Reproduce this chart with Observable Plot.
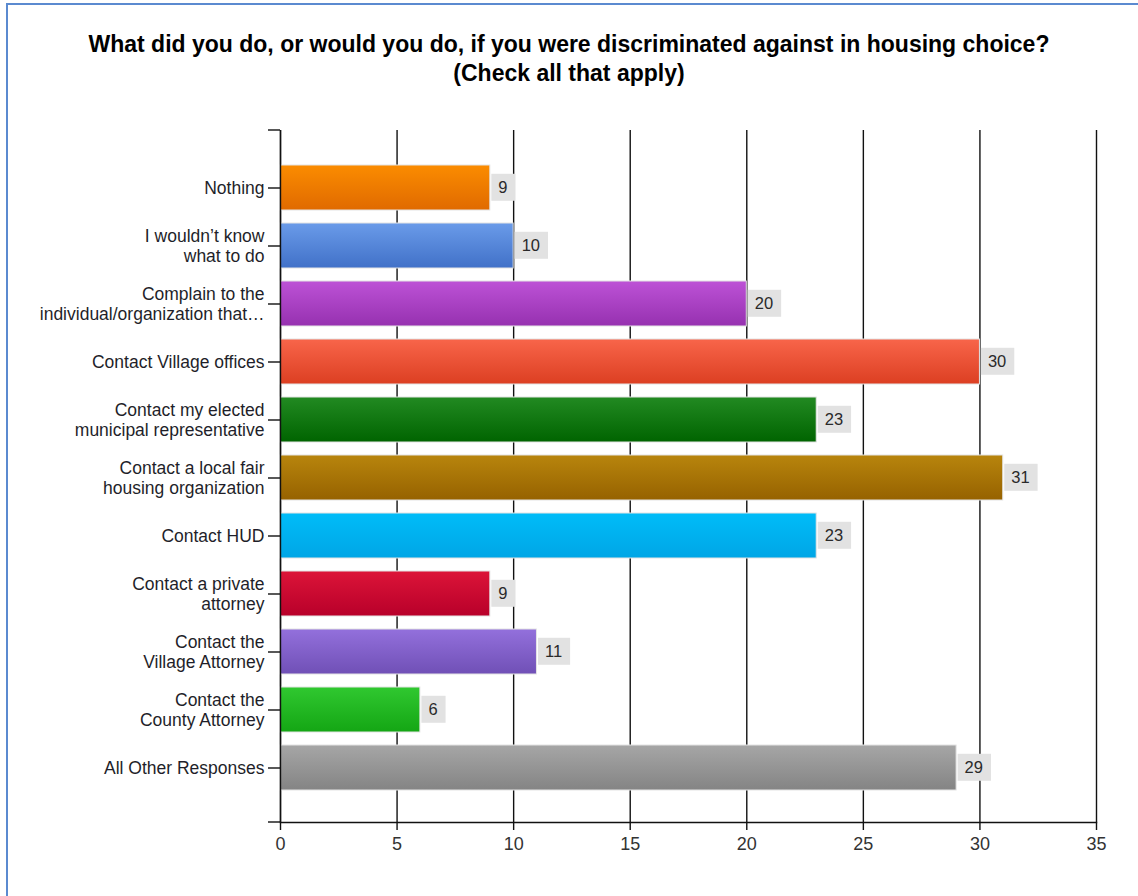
<!DOCTYPE html>
<html>
<head>
<meta charset="utf-8">
<script src="https://cdn.jsdelivr.net/npm/d3@7"></script>
<script src="https://cdn.jsdelivr.net/npm/@observablehq/plot@0.6"></script>
<style>
  html, body { margin: 0; padding: 0; background: #fff; }
  #wrap { position: relative; width: 1138px; height: 896px; overflow: hidden; }
  #borderTop { position: absolute; left: 6px; top: 3px; width: 1200px; height: 2px; background: #5b8ad0; z-index: 2; }
  #borderLeft { position: absolute; left: 6px; top: 3px; width: 2px; height: 1000px; background: #5b8ad0; z-index: 2; }
  #title { height: 110px; box-sizing: border-box; padding-top: 30px; text-align: center;
           font-family: "Liberation Sans", Arial, sans-serif; font-weight: bold; font-size: 23px;
           line-height: 29px; color: #000; }
  #chart svg { display: block; }
</style>
</head>
<body>
<div id="wrap">
  <div id="borderTop"></div>
  <div id="borderLeft"></div>
  <div id="title">What did you do, or would you do, if you were discriminated against in housing choice?<br>(Check all that apply)</div>
  <div id="chart"></div>
</div>
<script>
const categories = [
  "Nothing",
  "I wouldn’t know\nwhat to do",
  "Complain to the\nindividual/organization that…",
  "Contact Village offices",
  "Contact my elected\nmunicipal representative",
  "Contact a local fair\nhousing organization",
  "Contact HUD",
  "Contact a private\nattorney",
  "Contact the\nVillage Attorney",
  "Contact the\nCounty Attorney",
  "All Other Responses"
];
const values = [9, 10, 20, 30, 23, 31, 23, 9, 11, 6, 29];
const topColors = ["#fb8c00", "#6a9be9", "#bd52d6", "#f8654a", "#228a22", "#b8850d", "#00bcf8", "#dc1438", "#9370dc", "#30c830", "#a6a6a6"];
const bottomColors = ["#e06a00", "#4171c8", "#9631b0", "#dc3f22", "#006400", "#966200", "#00a6e6", "#b8002a", "#7050b6", "#14a614", "#848484"];
const xTicks = [0, 5, 10, 15, 20, 25, 30, 35];

const data = categories.map((label, i) => ({label, value: values[i], fill: `url(#grad${i})`}));

const H = 786, MT = 20, MB = 74;
const chart = Plot.plot({
  width: 1138,
  height: H,
  marginLeft: 280,
  marginRight: 42,
  marginTop: MT,
  marginBottom: MB,
  style: {fontFamily: "'Liberation Sans', Arial, sans-serif", background: "#fff"},
  x: {domain: [0, 35], label: null},
  y: {domain: categories, label: null, paddingInner: 0.22, paddingOuter: 0.575, align: 0.53},
  color: {type: "identity"},
  marks: [
    Plot.gridX(xTicks, {stroke: "#111", strokeOpacity: 1, strokeWidth: 1.4}),
    Plot.barX(data, {x: "value", y: "label", fill: "fill", stroke: "#e4e4e4", strokeWidth: 1}),
    Plot.text(data, {x: "value", y: "label", text: d => String(d.value), textAnchor: "start", dx: 8,
      fontSize: 16.5, fill: "#2a2a2a", className: "vlabel"}),
    Plot.axisX(xTicks, {anchor: "bottom", tickSize: 8, tickPadding: 7, fontSize: 18, stroke: "#111", fill: "#333", strokeWidth: 1.4}),
    Plot.axisY({anchor: "left", tickSize: 12, tickPadding: 4, fontSize: 17.5, lineHeight: 1.14, stroke: "#111", fill: "#1f1f2a", strokeWidth: 1.4}),
    Plot.ruleX([0], {stroke: "#111", strokeWidth: 1.4}),
    Plot.frame({anchor: "bottom", stroke: "#111", strokeWidth: 1.4})
  ]
});
document.getElementById("chart").appendChild(chart);

// gradients
const svgSel = d3.select(chart);
const defs = svgSel.insert("defs", ":first-child");
topColors.forEach((c, i) => {
  const g = defs.append("linearGradient").attr("id", `grad${i}`).attr("x1", 0).attr("y1", 0).attr("x2", 0).attr("y2", 1);
  g.append("stop").attr("offset", "0%").attr("stop-color", c);
  g.append("stop").attr("offset", "100%").attr("stop-color", bottomColors[i]);
});

// grey boxes behind value labels
svgSel.selectAll("g.vlabel text").each(function () {
  const bb = this.getBBox();
  const tr = this.getAttribute("transform");
  const r = document.createElementNS("http://www.w3.org/2000/svg", "rect");
  r.setAttribute("x", bb.x - 7);
  r.setAttribute("y", bb.y + bb.height / 2 - 13.5);
  r.setAttribute("width", bb.width + 15);
  r.setAttribute("height", 27);
  r.setAttribute("fill", "#e2e2e2");
  if (tr) r.setAttribute("transform", tr);
  this.parentNode.insertBefore(r, this);
});

// axis end stubs
const x0 = chart.scale("x").apply(0);
const yTopPx = MT, yBotPx = H - MB;
svgSel.append("line").attr("x1", x0 - 12).attr("x2", x0).attr("y1", yTopPx).attr("y2", yTopPx).attr("stroke", "#111").attr("stroke-width", 1.4);
svgSel.append("line").attr("x1", x0 - 12).attr("x2", x0).attr("y1", yBotPx).attr("y2", yBotPx).attr("stroke", "#111").attr("stroke-width", 1.4);
</script>
</body>
</html>
